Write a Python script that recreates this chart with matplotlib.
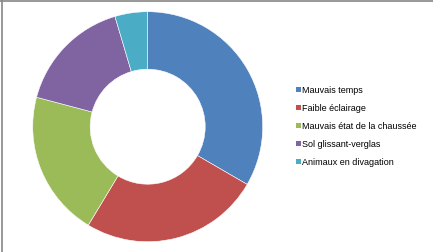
import matplotlib
matplotlib.use("Agg")
import matplotlib.pyplot as plt
from matplotlib.lines import Line2D

categories = ["Mauvais temps", "Faible éclairage", "Mauvais état de la chaussée",
              "Sol glissant-verglas", "Animaux en divagation"]
values = [33.4, 25.3, 20.5, 16.3, 4.6]
colors = ["#4F81BD", "#C0504D", "#9BBB59", "#8064A2", "#4BACC6"]

W, H = 433, 252
fig = plt.figure(figsize=(W / 100, H / 100), dpi=100)
fig.patch.set_facecolor("white")

cx, cy, r = 147.7, 126.7, 115.0
ax = fig.add_axes([(cx - r) / W, (H - cy - r) / H, 2 * r / W, 2 * r / H])
wedges, _ = ax.pie(values, colors=colors, startangle=90, counterclock=False,
                   radius=1.0, wedgeprops=dict(width=0.5, edgecolor="white", linewidth=0.4))
ax.set_xlim(-1, 1)
ax.set_ylim(-1, 1)
ax.set_aspect("equal")
ax.axis("off")

leg = fig.legend(wedges, categories, loc="upper left",
                 bbox_to_anchor=(296 / W, 1 - 86 / H), frameon=False,
                 prop={"family": "Liberation Sans", "size": 6.5},
                 handlelength=0.5, handleheight=0.5, handletextpad=0.2,
                 labelspacing=0.99, borderaxespad=0, borderpad=0)
for h in leg.legend_handles:
    h.set_linewidth(0)

fig.add_artist(Line2D([1.5 / W, 1.5 / W], [0, 1], transform=fig.transFigure,
                      color="#868686", linewidth=1.2))
fig.add_artist(Line2D([0, 1], [1 - 1 / H, 1 - 1 / H], transform=fig.transFigure,
                      color="#868686", linewidth=1.2))

fig.savefig("out.png", dpi=100)
